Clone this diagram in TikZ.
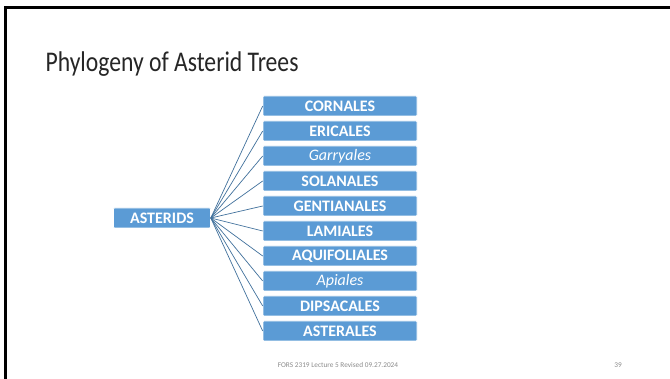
\documentclass[tikz,border=0pt]{standalone}
\usepackage{fontspec}
\setmainfont{Carlito}
\newfontfamily\titlefont[FakeStretch=0.83]{Carlito}
\definecolor{boxblue}{HTML}{5B9BD5}
\definecolor{linkblue}{HTML}{41719C}
\definecolor{footgray}{HTML}{8C8C8C}
\definecolor{titlegray}{HTML}{262626}
\begin{document}
\begin{tikzpicture}[x=1pt,y=-1pt,
  taxon/.style={rectangle, rounded corners=1pt, fill=boxblue, draw=white, line width=0.6pt,
    minimum width=154pt, minimum height=20pt, inner sep=0pt, text=white,
    font=\fontsize{16}{18}\selectfont\bfseries},
  italtaxon/.style={taxon, font=\fontsize{16}{18}\selectfont\itshape},
  link/.style={draw=linkblue, line width=0.7pt}]
\useasboundingbox (0,0) rectangle (670,379);
\fill[white] (0,0) rectangle (670,379);
\draw[line width=3pt] (5.5,379) -- (5.5,7.5) -- (670,7.5);
\node[anchor=base west, text=titlegray, font=\titlefont\fontsize{28.5}{32}\selectfont] (title) at (42,72) {Phylogeny of Asterid Trees};
\node[taxon, minimum width=97pt] (root) at (162,218) {ASTERIDS};
\foreach \name/\lab/\sty [count=\i from 0] in {
  c0/CORNALES/taxon, c1/ERICALES/taxon, c2/Garryales/italtaxon, c3/SOLANALES/taxon,
  c4/GENTIANALES/taxon, c5/LAMIALES/taxon, c6/AQUIFOLIALES/taxon, c7/Apiales/italtaxon,
  c8/DIPSACALES/taxon, c9/ASTERALES/taxon} {
  \node[\sty] (\name) at (340,106+25*\i) {\lab};
  \draw[link] (root.east) -- (\name.west);
}
\node[font=\fontsize{7.3}{9}\selectfont, text=footgray] (foot) at (338,365) {FORS 2319 Lecture 5 Revised 09.27.2024};
\node[font=\fontsize{7.3}{9}\selectfont, text=footgray] (page) at (618,365) {39};
\end{tikzpicture}
\end{document}
